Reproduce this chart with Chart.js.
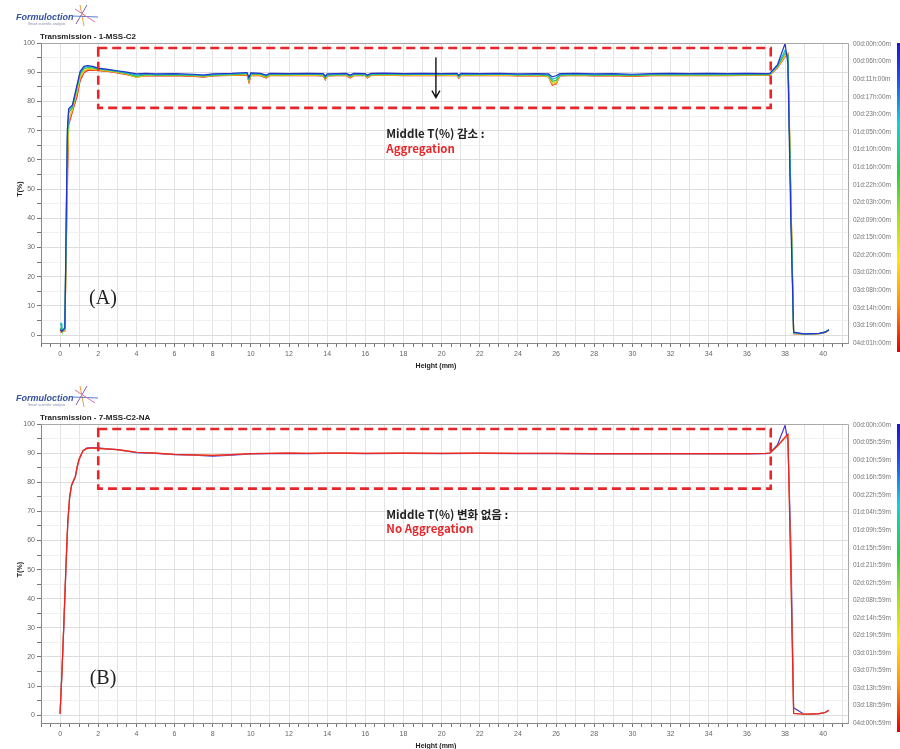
<!DOCTYPE html>
<html>
<head>
<meta charset="utf-8">
<script src="https://cdn.jsdelivr.net/npm/chart.js@4.4.1/dist/chart.umd.min.js"></script>
<style>
  body { margin: 0; background: #fff; }
  canvas { position: absolute; left: 0; }
  #chartA { top: 0; }
  #chartB { top: 376px; }
</style>
</head>
<body>
<canvas id="chartA" width="900" height="376"></canvas>
<canvas id="chartB" width="900" height="373"></canvas>
<script>
// ---- panel A : 1-MSS-C2 (heights in mm, T in %) ----
const heightsA = [0, 0.05, 0.1, 0.25, 0.38, 0.45, 0.65, 0.9, 1.05, 1.25,
    1.45, 1.7, 2.0, 2.5, 3.0, 3.5, 4.0, 4.5, 5.0, 6.0,
    7.0, 7.5, 8.0, 9.0, 9.8, 9.9, 10.0, 10.5, 10.8, 11.0,
    12.0, 13.0, 13.8, 13.9, 14.0, 15.0, 15.2, 15.4, 16.0, 16.1,
    16.3, 17.0, 18.0, 19.0, 20.0, 20.8, 20.9, 21.0, 22.0, 23.0,
    24.0, 25.0, 25.6, 25.8, 26.0, 26.2, 27.0, 28.0, 29.0, 30.0,
    31.0, 32.0, 33.0, 34.0, 35.0, 36.0, 37.0, 37.2, 37.6, 38.0,
    38.15, 38.3, 38.45, 39.0, 39.5, 39.8, 40.1, 40.3];
const blueA = [1.8, 1.6, 1.4, 2.5, 70, 77.5, 78.8, 86, 90.2, 92.0,
    92.3, 92.0, 91.4, 91.0, 90.5, 90.0, 89.4, 89.6, 89.4, 89.5,
    89.3, 89.0, 89.4, 89.6, 89.9, 88.2, 89.8, 89.6, 89.0, 89.6,
    89.5, 89.6, 89.5, 88.6, 89.4, 89.6, 89.0, 89.6, 89.5, 89.0,
    89.6, 89.7, 89.5, 89.6, 89.5, 89.6, 88.9, 89.6, 89.5, 89.6,
    89.4, 89.5, 89.4, 88.4, 88.8, 89.5, 89.6, 89.4, 89.5, 89.3,
    89.5, 89.6, 89.5, 89.6, 89.5, 89.6, 89.5, 89.6, 92.5, 99.8,
    93, 40, 1.0, 0.4, 0.5, 0.6, 1.0, 1.8];
const cyanA = [3.5, 4.0, 1.5, 2.2, 68, 77, 78.5, 85.5, 89.8, 91.6,
    92.0, 91.8, 91.2, 90.9, 90.4, 89.8, 89.0, 89.4, 89.2, 89.3,
    89.1, 88.9, 89.2, 89.4, 89.7, 87.8, 89.6, 89.5, 88.8, 89.4,
    89.4, 89.4, 89.3, 88.3, 89.2, 89.4, 88.8, 89.4, 89.3, 88.8,
    89.4, 89.5, 89.3, 89.4, 89.3, 89.4, 88.6, 89.4, 89.3, 89.4,
    89.2, 89.3, 89.1, 87.6, 88.0, 89.2, 89.4, 89.2, 89.3, 89.1,
    89.3, 89.4, 89.3, 89.4, 89.3, 89.4, 89.4, 89.4, 92.2, 97.5,
    95.5, 45, 0.8, 0.4, 0.5, 0.6, 1.0, 1.8];
const greenA = [1.6, 2.5, 1.4, 2.0, 66, 76, 78, 85, 89.3, 91.2,
    91.6, 91.5, 91.0, 90.7, 90.2, 89.6, 88.6, 89.2, 89.0, 89.1,
    88.9, 88.7, 89.0, 89.2, 89.5, 87.5, 89.4, 89.3, 88.5, 89.2,
    89.2, 89.3, 89.1, 88.0, 89.0, 89.2, 88.6, 89.2, 89.1, 88.5,
    89.2, 89.3, 89.2, 89.3, 89.2, 89.3, 88.4, 89.2, 89.2, 89.3,
    89.1, 89.2, 88.8, 86.9, 87.2, 89.0, 89.2, 89.0, 89.1, 88.9,
    89.1, 89.2, 89.1, 89.2, 89.1, 89.2, 89.2, 89.3, 92.0, 96.5,
    96.0, 48, 0.7, 0.4, 0.5, 0.6, 1.0, 1.8];
const yellowA = [1.5, 1.4, 1.3, 1.8, 60, 74, 77.5, 84, 88.5, 90.6,
    91.2, 91.1, 90.8, 90.5, 90.0, 89.4, 88.3, 89.0, 88.9, 89.0,
    88.8, 88.6, 88.9, 89.1, 89.3, 87.2, 89.2, 89.1, 88.3, 89.0,
    89.0, 89.1, 89.0, 87.8, 88.9, 89.1, 88.4, 89.0, 89.0, 88.3,
    89.1, 89.2, 89.0, 89.1, 89.0, 89.1, 88.2, 89.0, 89.0, 89.1,
    88.9, 89.0, 88.6, 86.3, 86.6, 88.9, 89.1, 88.9, 89.0, 88.8,
    89.0, 89.1, 89.0, 89.1, 89.0, 89.1, 89.1, 89.2, 91.8, 95.8,
    96.3, 50, 0.6, 0.4, 0.5, 0.6, 1.0, 1.8];
const orangeA = [1.3, 1.2, 1.2, 1.6, 55, 73, 77, 83, 87.8, 90.2,
    90.9, 90.9, 90.6, 90.4, 89.9, 89.3, 88.2, 88.8, 88.8, 88.9,
    88.7, 88.4, 88.8, 89.0, 89.1, 86.8, 89.0, 88.9, 88.1, 88.9,
    88.9, 89.0, 88.8, 87.5, 88.8, 89.0, 88.2, 88.9, 88.9, 88.1,
    89.0, 89.1, 88.9, 89.0, 88.9, 89.0, 88.0, 88.9, 88.9, 89.0,
    88.8, 88.9, 88.4, 85.8, 86.0, 88.8, 89.0, 88.8, 88.9, 88.7,
    88.9, 89.0, 88.9, 89.0, 88.9, 89.0, 89.0, 89.1, 91.6, 95.5,
    96.4, 50, 0.5, 0.3, 0.4, 0.5, 0.9, 1.7];
const redA = [1.2, 1.1, 1.2, 1.5, 50, 72, 76.5, 82, 87, 89.8,
    90.6, 90.7, 90.5, 90.3, 89.8, 89.2, 88.4, 88.8, 88.7, 88.8,
    88.6, 88.3, 88.7, 88.9, 89.0, 86.5, 88.9, 88.8, 88.0, 88.8,
    88.8, 88.9, 88.7, 87.4, 88.7, 88.9, 88.0, 88.8, 88.8, 88.0,
    88.9, 89.0, 88.8, 88.9, 88.8, 88.9, 87.9, 88.8, 88.8, 88.9,
    88.7, 88.8, 88.6, 85.5, 86.0, 88.7, 88.9, 88.7, 88.8, 88.6,
    88.8, 88.9, 88.8, 88.9, 88.8, 88.9, 88.9, 89.0, 91.5, 95.3,
    96.3, 48, 0.5, 0.3, 0.4, 0.5, 0.9, 1.7];

// ---- panel B : 7-MSS-C2-NA ----
const heightsB = [0, 0.1, 0.2, 0.3, 0.4, 0.5, 0.6, 0.7, 0.8, 0.9,
    1.0, 1.2, 1.4, 1.7, 2.0, 2.5, 3.0, 3.5, 4.0, 5.0,
    6.0, 7.0, 8.0, 9.0, 10.0, 11.0, 12.0, 13.0, 14.0, 15.0,
    16.0, 18.0, 20.0, 22.0, 24.0, 26.0, 28.0, 30.0, 32.0, 34.0,
    36.0, 37.0, 37.2, 37.6, 38.0, 38.15, 38.3, 38.45, 39.0, 39.5,
    39.8, 40.1, 40.3];
const redB = [0.5, 15, 32, 50, 66, 75, 79, 80.5, 82, 85.5,
    88, 90.8, 91.6, 91.8, 91.6, 91.4, 91.2, 90.8, 90.3, 90.0,
    89.6, 89.4, 89.2, 89.5, 89.8, 89.9, 90.0, 89.9, 90.0, 90.0,
    89.9, 90.0, 89.9, 90.0, 89.9, 89.9, 89.8, 89.8, 89.8, 89.8,
    89.8, 89.9, 90.0, 92.5, 95.5, 96.5, 50, 0.6, 0.3, 0.4,
    0.5, 0.9, 1.7];
const orangeB = [0.5, 15, 32, 50, 66, 75, 79, 80.5, 82, 85.5,
    88, 90.7, 91.5, 91.7, 91.6, 91.4, 91.2, 90.8, 90.3, 90.0,
    89.6, 89.4, 89.2, 89.5, 89.8, 89.9, 90.0, 89.9, 90.0, 90.0,
    89.9, 90.0, 89.9, 90.0, 89.9, 89.9, 89.8, 89.8, 89.8, 89.8,
    89.8, 89.9, 90.0, 92.3, 95.2, 96.2, 52, 0.6, 0.3, 0.4,
    0.5, 0.9, 1.7];
const blueB = [0.5, 15, 31, 49, 65, 74.5, 78.8, 80.3, 81.8, 85.2,
    87.8, 90.8, 91.7, 91.9, 91.8, 91.5, 91.2, 90.7, 90.2, 89.9,
    89.5, 89.3, 89.0, 89.3, 89.7, 89.8, 89.9, 89.8, 89.9, 89.9,
    89.8, 89.9, 89.8, 89.9, 89.8, 89.8, 89.7, 89.7, 89.7, 89.7,
    89.7, 89.8, 90.0, 92.8, 99.5, 94, 60, 2.5, 0.3, 0.4,
    0.5, 0.9, 1.7];

// time scale (colour bar) labels
const timeLabelsA = ['00d:00h:00m', '00d:06h:00m', '00d:11h:00m', '00d:17h:00m', '00d:23h:00m',
    '01d:05h:00m', '01d:10h:00m', '01d:16h:00m', '01d:22h:00m', '02d:03h:00m', '02d:09h:00m',
    '02d:15h:00m', '02d:20h:00m', '03d:02h:00m', '03d:08h:00m', '03d:14h:00m', '03d:19h:00m',
    '04d:01h:00m'];
const timeLabelsB = ['00d:00h:00m', '00d:05h:59m', '00d:10h:59m', '00d:16h:59m', '00d:22h:59m',
    '01d:04h:59m', '01d:09h:59m', '01d:15h:59m', '01d:21h:59m', '02d:02h:59m', '02d:08h:59m',
    '02d:14h:59m', '02d:19h:59m', '03d:01h:59m', '03d:07h:59m', '03d:13h:59m', '03d:18h:59m',
    '04d:00h:59m'];

const xRange = [-1, 41.3];
const yRange = [-2.7, 100];
const yTicks = [0, 5, 10, 15, 20, 25, 30, 35, 40, 45, 50, 55, 60, 65, 70, 75, 80, 85, 90, 95, 100];
// dashed "middle" region: [x from, x to, T low, T high]
const middleBox = [2.0, 37.25, 77.8, 98.3];

const RED = '#e8262a';
const TICK_FONT = { family: '"Liberation Sans", Arial, sans-serif', size: 7 };

function near(v, step) {
    return Math.abs(v - Math.round(v / step) * step) < 1e-6;
}

const decorPlugin = {
    id: 'decor',
    afterDatasetsDraw(chart, args, o) {
        const ctx = chart.ctx;
        const xs = chart.scales.x, ys = chart.scales.y;
        const x0 = xs.getPixelForValue(o.box[0]), x1 = xs.getPixelForValue(o.box[1]);
        const y0 = ys.getPixelForValue(o.box[3]), y1 = ys.getPixelForValue(o.box[2]);
        ctx.save();
        ctx.strokeStyle = RED;
        ctx.lineWidth = 2.6;
        ctx.setLineDash([9, 5]);
        ctx.strokeRect(x0, y0, x1 - x0, y1 - y0);
        ctx.setLineDash([]);
        if (o.arrow) {
            const ax = xs.getPixelForValue(o.arrow[0]);
            const ay0 = ys.getPixelForValue(o.arrow[1]);
            const ay1 = ys.getPixelForValue(o.arrow[2]);
            ctx.strokeStyle = '#111';
            ctx.lineWidth = 1.4;
            ctx.beginPath();
            ctx.moveTo(ax, ay0);
            ctx.lineTo(ax, ay1);
            ctx.moveTo(ax - 4, ay1 - 7);
            ctx.lineTo(ax, ay1);
            ctx.lineTo(ax + 4, ay1 - 7);
            ctx.stroke();
        }
        ctx.restore();
    },
    afterDraw(chart, args, o) {
        const ctx = chart.ctx;
        const a = chart.chartArea;
        const xs = chart.scales.x, ys = chart.scales.y;
        ctx.save();
        // frame
        ctx.strokeStyle = '#a8a8a8';
        ctx.lineWidth = 1;
        ctx.beginPath();
        ctx.moveTo(a.left, a.top + 0.5);
        ctx.lineTo(a.right + 0.5, a.top + 0.5);
        ctx.lineTo(a.right + 0.5, a.bottom);
        ctx.stroke();

        // logo
        ctx.fillStyle = '#34509e';
        ctx.font = 'italic bold 9px "Liberation Sans", Arial, sans-serif';
        ctx.textBaseline = 'alphabetic';
        ctx.textAlign = 'left';
        ctx.fillText('Formuloction', 16, a.top - 23);
        ctx.fillStyle = '#8a8aa8';
        ctx.font = '3.5px "Liberation Sans", Arial, sans-serif';
        ctx.fillText('Smart scientific analysis', 28, a.top - 18.5);
        ctx.lineWidth = 1;
        [['#8c5bb0', 76, 24, 87, 5], ['#f0a040', 80, 5, 84, 26], ['#5a7ed0', 72, 16, 98, 17], ['#e070a0', 75, 9, 95, 22]]
            .forEach(([c, sx, sy, ex, ey]) => {
                ctx.strokeStyle = c;
                ctx.beginPath();
                ctx.moveTo(sx, a.top - 43 + sy);
                ctx.lineTo(ex, a.top - 43 + ey);
                ctx.stroke();
            });

        // title
        ctx.fillStyle = '#222';
        ctx.font = 'bold 8px "Liberation Sans", Arial, sans-serif';
        ctx.fillText(o.title, 40, a.top - 4);

        // axis titles
        ctx.font = 'bold 7px "Liberation Sans", Arial, sans-serif';
        ctx.textAlign = 'center';
        ctx.textBaseline = 'middle';
        ctx.fillText('Height (mm)', 436, a.bottom + 23);
        ctx.save();
        ctx.translate(20, ys.getPixelForValue(50));
        ctx.rotate(-Math.PI / 2);
        ctx.fillText('T(%)', 0, 0);
        ctx.restore();

        // panel tag
        ctx.font = '20px "Liberation Serif", "Times New Roman", serif';
        ctx.fillStyle = '#222';
        ctx.fillText(o.tag, xs.getPixelForValue(2.25), ys.getPixelForValue(12.4));

        // notes
        ctx.textAlign = 'left';
        ctx.textBaseline = 'alphabetic';
        ctx.font = '600 11.5px "Noto Sans CJK KR", "Noto Sans", sans-serif';
        ctx.fillStyle = '#222';
        const nx = xs.getPixelForValue(17.1);
        ctx.fillText(o.note, nx, ys.getPixelForValue(67.5));
        ctx.fillStyle = RED;
        ctx.fillText(o.result, nx, ys.getPixelForValue(62.4));

        // colour bar
        const barTop = a.top, barBot = a.bottom + 9;
        const g = ctx.createLinearGradient(0, barTop, 0, barBot);
        g.addColorStop(0, '#1818c8');
        g.addColorStop(0.12, '#1e50f0');
        g.addColorStop(0.26, '#10d0e0');
        g.addColorStop(0.42, '#20d040');
        g.addColorStop(0.56, '#a0e020');
        g.addColorStop(0.7, '#ffe800');
        g.addColorStop(0.85, '#ff9000');
        g.addColorStop(1, '#e00000');
        ctx.fillStyle = g;
        ctx.fillRect(897, barTop, 6, barBot - barTop);
        ctx.fillStyle = '#777';
        ctx.font = '6.5px "Liberation Sans", Arial, sans-serif';
        ctx.textBaseline = 'middle';
        const n = o.times.length;
        o.times.forEach((t, i) => {
            ctx.fillText(t, 853, a.top + 1 + i * (a.bottom - a.top - 1) / (n - 1));
        });
        ctx.restore();
    }
};

function makeChart(id, heights, series, decor, xAxisHeight, padTop) {
    const datasets = series.map(([vals, color]) => ({
        data: heights.map((h, i) => ({ x: h, y: vals[i] })),
        borderColor: color,
        borderWidth: 1.2,
        pointRadius: 0,
        tension: 0,
        fill: false
    }));
    return new Chart(document.getElementById(id), {
        type: 'line',
        data: { datasets },
        plugins: [decorPlugin],
        options: {
            responsive: false,
            animation: false,
            layout: { padding: { left: 0, right: 52, top: padTop, bottom: 0 } },
            plugins: {
                legend: { display: false },
                tooltip: { enabled: false },
                decor: decor
            },
            scales: {
                x: {
                    type: 'linear',
                    min: xRange[0],
                    max: xRange[1],
                    afterFit: (s) => { s.height = xAxisHeight; },
                    afterBuildTicks: (s) => {
                        // a mark every 0.5 mm from -1 to 41
                        const t = [];
                        for (let k = -2; k <= 82; k++) t.push({ value: k / 2 });
                        s.ticks = t;
                    },
                    border: { color: '#888' },
                    grid: {
                        color: (c) => near(c.tick.value, 1) ? '#e4e4e4' : 'rgba(0,0,0,0)',
                        tickColor: '#777',
                        tickLength: 4
                    },
                    ticks: {
                        autoSkip: false,
                        maxRotation: 0,
                        padding: 3,
                        font: TICK_FONT,
                        color: '#666',
                        callback: (v) => (near(v, 2) && v >= 0 && v <= 40) ? String(Math.round(v)) : ''
                    }
                },
                y: {
                    min: yRange[0],
                    max: yRange[1],
                    afterFit: (s) => { s.width = 41; },
                    afterBuildTicks: (s) => { s.ticks = yTicks.map(v => ({ value: v })); },
                    border: { color: '#888' },
                    grid: {
                        color: (c) => near(c.tick.value, 10) ? '#dcdcdc' : '#f0f0f0',
                        tickColor: '#777',
                        tickLength: 4
                    },
                    ticks: {
                        autoSkip: false,
                        padding: 2,
                        font: TICK_FONT,
                        color: '#666',
                        callback: (v) => near(v, 10) ? String(Math.round(v)) : ''
                    }
                }
            }
        }
    });
}

makeChart('chartA', heightsA, [
    [blueA, '#2432c8'],
    [cyanA, '#12b8d8'],
    [greenA, '#34c040'],
    [yellowA, '#e8d424'],
    [orangeA, '#ff8a18'],
    [redA, '#e02424']
], {
    title: 'Transmission - 1-MSS-C2',
    tag: '(A)',
    note: 'Middle T(%) 감소 :',
    result: 'Aggregation',
    times: timeLabelsA,
    box: middleBox,
    arrow: [19.7, 95, 81.3]
}, 33, 43);

makeChart('chartB', heightsB, [
    [redB, '#e8242a'],
    [orangeB, '#ff8c20'],
    [blueB, '#4a3ad0']
], {
    title: 'Transmission - 7-MSS-C2-NA',
    tag: '(B)',
    note: 'Middle T(%) 변화 없음 :',
    result: 'No Aggregation',
    times: timeLabelsB,
    box: middleBox,
    arrow: null
}, 26, 48);
</script>
</body>
</html>
